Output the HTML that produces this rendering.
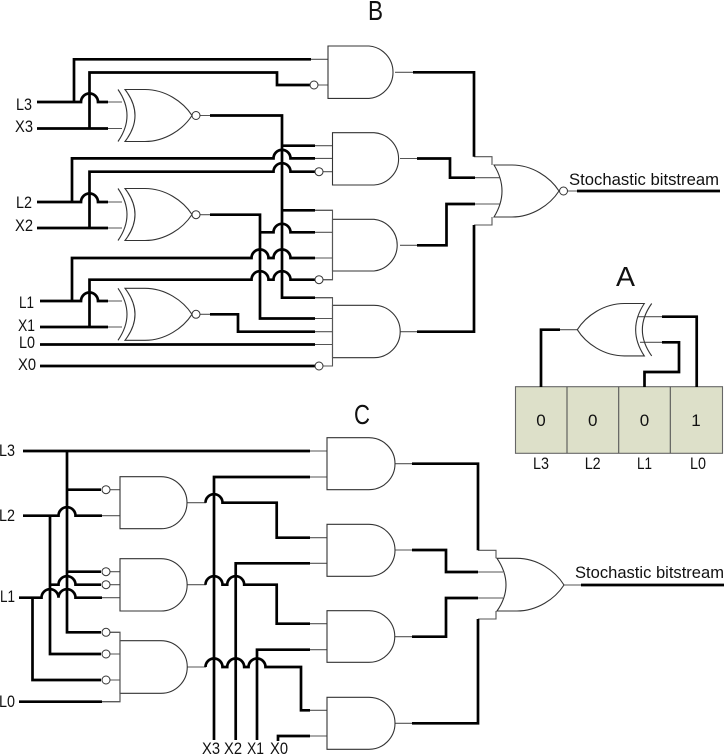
<!DOCTYPE html>
<html><head><meta charset="utf-8"><style>
html,body{margin:0;padding:0;background:#fff}
svg{display:block}
text{font-family:"Liberation Sans",sans-serif;fill:#111}
.t{fill:none;stroke:#000;stroke-width:2.7;stroke-linejoin:miter}
.n{fill:none;stroke:#555;stroke-width:1.1}
.g{fill:#fff;stroke:#333;stroke-width:1.1}
.b{fill:#fff;stroke:#333;stroke-width:1}
.l{font-size:17px}
.h{font-size:28px}
</style></head><body>
<svg width="725" height="755" viewBox="0 0 725 755" xmlns="http://www.w3.org/2000/svg">
<!-- titles -->
<text class="h" x="368" y="20" textLength="15" lengthAdjust="spacingAndGlyphs">B</text>
<text class="h" x="616" y="286" textLength="19" lengthAdjust="spacingAndGlyphs">A</text>
<text class="h" x="354" y="424" textLength="16" lengthAdjust="spacingAndGlyphs">C</text>

<!-- ========== B thin wires ========== -->
<path class="n" d="M108,102H122M108,128.500H122M108,202H122M108,228H122M108,301H122M108,327H122
M200,115.500H210M200,214.700H210M200,314.300H210
M311,59.300H328M318,85H328
M315,145.700H333M315,158.400H333M323,171.700H333
M315,210.300H333M315,232.300H333M315,258H333M323,279.700H333
M315,297.700H333M315,318.500H333M315,331.700H333M315,344.500H333M323,366H333
M395,72.300H413M400,158.500H417M400,245.300H417M400,331.700H417
M474,156.700H492V165M475,177.700H500M475,204H500M474,225H492V217M567,191H577"/>

<!-- B thick wires -->
<path class="t" d="M37,102H81a8.500,8.500 0 0 1 17,0H108M37,128.500H108
M74,102V59.300H311
M89.500,128.500V72.500H277V85H310
M210,115.500H282V297.700H315
M282,145.700H315
M72,202V158.400H273.500a8.500,8.500 0 0 1 17,0H315
M89.500,228V171.700H273.500a8.500,8.500 0 0 1 17,0H315
M37,202H81a8.500,8.500 0 0 1 17,0H108M37,228H108
M210,214.700H260V318.500H315
M282,210.300H315
M260,232.300H273.500a8.500,8.500 0 0 1 17,0H315
M72,301V258H251.500a8.500,8.500 0 0 1 17,0H273.500a8.500,8.500 0 0 1 17,0H315
M89.500,327V279.700H251.500a8.500,8.500 0 0 1 17,0H273.500a8.500,8.500 0 0 1 17,0H315
M40,301H81a8.500,8.500 0 0 1 17,0H108M40,327H108
M210,314.300H238V331.700H315
M40,344.500H315M40,366H315
M413,72.300H474V156.700
M417,158.500H450V177.700H475
M475,204H446.500V245.300H417
M474,225V331.700H417
M577,191H720"/>

<!-- B XNOR gates -->
<path class="g" d="M125,89.500H145C165,89.500 183,101.500 192,115.500C183,129.500 165,141.500 145,141.500H125Q145,115.500 125,89.500Z"/>
<path class="n" style="stroke:#333" d="M118,89.500Q136,115.500 118,141.500"/>
<circle class="b" cx="196" cy="115.500" r="4"/>
<path class="g" d="M125,188.500H145C165,188.500 183,200.500 192,214.500C183,228.500 165,240.500 145,240.500H125Q145,214.500 125,188.500Z"/>
<path class="n" style="stroke:#333" d="M118,188.500Q136,214.500 118,240.500"/>
<circle class="b" cx="196" cy="214.700" r="4"/>
<path class="g" d="M125,288.300H145C165,288.300 183,300.300 192,314.300C183,328.300 165,340.300 145,340.300H125Q145,314.300 125,288.300Z"/>
<path class="n" style="stroke:#333" d="M118,288.300Q136,314.300 118,340.300"/>
<circle class="b" cx="196" cy="314.300" r="4"/>

<!-- B AND gates -->
<path class="g" d="M328,46H369A26.300,26.300 0 0 1 369,98.400H328Z"/>
<path class="g" d="M332.500,132.700H374A26.200,26.200 0 0 1 374,185H332.500Z"/>
<path class="g" d="M332.500,219.300H374A26,26 0 0 1 374,271H332.500Z"/>
<path class="g" d="M332.500,305.300H374A26.200,26.200 0 0 1 374,357.700H332.500Z"/>
<path class="n" d="M315,210.300H332.500V279.700H323M315,297.700H332.500V366H323"/>
<circle class="b" cx="314" cy="85" r="4"/>
<circle class="b" cx="319" cy="171.700" r="4"/>
<circle class="b" cx="319" cy="279.700" r="4"/>
<circle class="b" cx="319" cy="366" r="4"/>
<!-- B OR -->
<path class="g" d="M494,165H512C532,165 550,177 559,191C550,205 532,217 512,217H494Q510,191 494,165Z" style="fill:none"/>
<circle class="b" cx="563.500" cy="191" r="4"/>

<!-- B labels -->
<g class="l">
<text x="16" y="110" textLength="16" lengthAdjust="spacingAndGlyphs">L3</text>
<text x="15" y="132" textLength="18" lengthAdjust="spacingAndGlyphs">X3</text>
<text x="16" y="208" textLength="16" lengthAdjust="spacingAndGlyphs">L2</text>
<text x="15" y="231" textLength="18" lengthAdjust="spacingAndGlyphs">X2</text>
<text x="19" y="308" textLength="15" lengthAdjust="spacingAndGlyphs">L1</text>
<text x="18" y="331" textLength="17" lengthAdjust="spacingAndGlyphs">X1</text>
<text x="19" y="348" textLength="16" lengthAdjust="spacingAndGlyphs">L0</text>
<text x="18" y="370" textLength="18" lengthAdjust="spacingAndGlyphs">X0</text>
<text x="569" y="185" textLength="150" lengthAdjust="spacingAndGlyphs">Stochastic bitstream</text>
</g>

<!-- ========== A ========== -->
<rect x="515.500" y="386.700" width="207" height="66.600" fill="#dde0c9" stroke="#666" stroke-width="1.100"/>
<path d="M567,386.700V453.300M618.700,386.700V453.300M670.300,386.700V453.300" stroke="#555" stroke-width="1.100" fill="none"/>
<path class="n" d="M577,329.700H560M638,316.700H662M640,342.300H662"/>
<path class="t" d="M560,329.700H541V387M662,316.700H696.700V387M662,342.300H679V372H644.500V387"/>
<path class="g" d="M644.300,303.500H624.300C604,303.500 586,315.700 577.300,329.700C586,343.700 604,355.900 624.300,355.900H644.300Q627,329.700 644.300,303.500Z" style="fill:none"/>
<path class="n" style="stroke:#333" d="M651.700,303.500Q633,329.700 651.700,355.900"/>
<g class="l" text-anchor="middle">
<text x="541" y="426">0</text><text x="592.700" y="426">0</text><text x="644.500" y="426">0</text><text x="696" y="426">1</text>
</g>
<g class="l" text-anchor="middle">
<text x="541" y="469" textLength="16" lengthAdjust="spacingAndGlyphs">L3</text><text x="592.700" y="469" textLength="16" lengthAdjust="spacingAndGlyphs">L2</text><text x="644.500" y="469" textLength="15" lengthAdjust="spacingAndGlyphs">L1</text><text x="698" y="469" textLength="16" lengthAdjust="spacingAndGlyphs">L0</text>
</g>

<!-- ========== C thin wires ========== -->
<path class="n" d="M310,451H327M310,477H327M310,537.700H327M310,563.300H327M310,623.700H327M310,649.700H327M310,710.300H327M310,736H327
M110,489.700H120M102,515.700H120M110,571.700H120M110,584.700H120M102,597.700H120
M110,632.300H120V701.700H102M110,654H120M110,680H120
M187.500,502.700H206M187.500,584.700H206M187.500,667H206
M395,463.700H412M395,550H412M395,636.700H412M395,723.300H412
M478,550.300H496V558.300M478,572H503M478,598H503M478,619H496V611M564,585H581"/>

<!-- C thick wires -->
<path class="t" d="M23,451H310M67,451V632.300H101M67,489.700H101
M23,515.700H58.500a8.500,8.500 0 0 1 17,0H102
M50,515.700V654H101
M67,571.700H101
M50,584.700H58.500a8.500,8.500 0 0 1 17,0H101
M19,597.700H41.500a8.500,8.500 0 0 1 17,0a8.500,8.500 0 0 1 17,0H102
M32.500,597.700V680H101
M19,701.700H102
M205.500,502.700a8.500,8.500 0 0 1 17,0H276.700V537.700H310
M205.500,584.700a8.500,8.500 0 0 1 17,0H227.200a8.500,8.500 0 0 1 17,0H276.700V623.700H310
M205.500,667a8.500,8.500 0 0 1 17,0H227.200a8.500,8.500 0 0 1 17,0H248.500a8.500,8.500 0 0 1 17,0H301V710.300H310
M214,740V477H310M235.700,740V563.300H310M257,740V649.700H310M278,741V736H310
M412,463.700H478V550.300
M412,550H446V572H478
M478,598H446V636.700H412
M478,619V723.300H412
M581,585H724"/>

<!-- C gates -->
<path class="g" d="M120,476.700H161A26,26 0 0 1 161,528.700H120Z"/>
<path class="g" d="M120,558.700H161A26.150,26.150 0 0 1 161,611H120Z"/>
<path class="g" d="M120,640.700H161A26.300,26.300 0 0 1 161,693.300H120Z"/>
<path class="n" d="M110,632.300H120V701.700H102"/>
<circle class="b" cx="106" cy="489.700" r="4"/>
<circle class="b" cx="106" cy="571.700" r="4"/>
<circle class="b" cx="106" cy="584.700" r="4"/>
<circle class="b" cx="106" cy="632.300" r="4"/>
<circle class="b" cx="106" cy="654" r="4"/>
<circle class="b" cx="106" cy="680" r="4"/>

<path class="g" d="M327,437.700H369A26,26 0 0 1 369,489.700H327Z"/>
<path class="g" d="M327,524.300H369A26,26 0 0 1 369,576.300H327Z"/>
<path class="g" d="M327,610.700H369A25.800,25.800 0 0 1 369,662.300H327Z"/>
<path class="g" d="M327,697.300H369A26,26 0 0 1 369,749.300H327Z"/>
<path class="g" d="M497,558.300H517C537,558.300 555,570.500 564,585C555,599 537,611 517,611H497Q515,585 497,558.300Z" style="fill:none"/>

<!-- C labels -->
<g class="l">
<text x="-1" y="456" textLength="16" lengthAdjust="spacingAndGlyphs">L3</text>
<text x="-1" y="521" textLength="16" lengthAdjust="spacingAndGlyphs">L2</text>
<text x="0" y="602" textLength="15" lengthAdjust="spacingAndGlyphs">L1</text>
<text x="-1" y="707" textLength="16" lengthAdjust="spacingAndGlyphs">L0</text>
<text x="202" y="754" textLength="18" lengthAdjust="spacingAndGlyphs">X3</text>
<text x="224" y="754" textLength="18" lengthAdjust="spacingAndGlyphs">X2</text>
<text x="247" y="754" textLength="17" lengthAdjust="spacingAndGlyphs">X1</text>
<text x="270" y="754" textLength="18" lengthAdjust="spacingAndGlyphs">X0</text>
<text x="575" y="578" textLength="149" lengthAdjust="spacingAndGlyphs">Stochastic bitstream</text>
</g>
</svg>
</body></html>
